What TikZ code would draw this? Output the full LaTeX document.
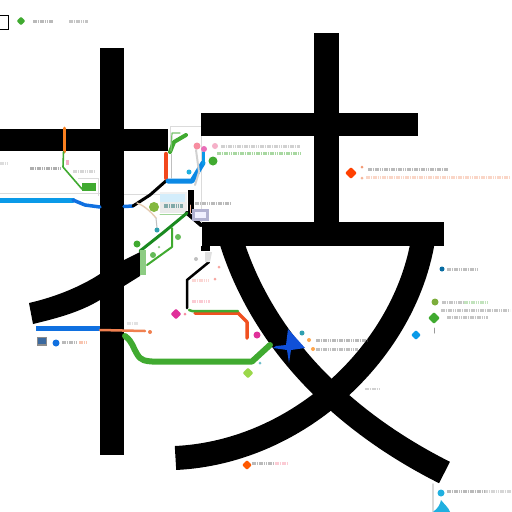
\documentclass[tikz,border=0pt]{standalone}
\usetikzlibrary{shapes.geometric}
\definecolor{skyb}{HTML}{0A9AE8}
\definecolor{royb}{HTML}{1070E0}
\definecolor{deepb}{HTML}{1050D8}
\definecolor{grn}{HTML}{40AA30}
\definecolor{dgrn}{HTML}{1A8A20}
\definecolor{lime}{HTML}{9BD84A}
\definecolor{redo}{HTML}{F05020}
\definecolor{palo}{HTML}{F08050}
\definecolor{mag}{HTML}{E0309A}
\definecolor{pinkl}{HTML}{F5B0C8}
\definecolor{teal2}{HTML}{30A0B0}
\definecolor{cyan2}{HTML}{20B0E0}
\tikzset{
 ink/.style={fill=black,draw=none},
 inkline/.style={draw=black,line width=24pt,line cap=butt},
 wire/.style={line width=#1,line cap=round,line join=round},
 blobd/.style={diamond,fill=#1,draw=none,inner sep=0,minimum size=11pt,rounded corners=1pt},
 blobc/.style={circle,fill=#1,draw=none,inner sep=0,minimum size=7pt},
 blur/.style={draw=#1,line width=3pt,dash pattern=on 1.6pt off .7pt,opacity=.45},
 faint/.style={draw=black!14,line width=1pt}
}
\begin{document}
\begin{tikzpicture}[x=1pt,y=-1pt]
\useasboundingbox (0,0) rectangle (512,512);
\fill[white] (0,0) rectangle (512,512);
% pale frames behind everything
\draw[faint] (0,193) -- (100,193);
\draw[faint] (78,178) -- (98,178) -- (98,196);
\draw[faint] (124,194) -- (160,194);
\draw[faint] (170,152) -- (170,126) -- (201,126);
\draw[faint] (201,136) -- (201,222);
\fill[black!6] (160,192) rectangle (187,213);
% glyph strokes
\fill[ink] (0,129) rectangle (168,151);
\fill[ink] (100,48) rectangle (124,455);
\fill[ink] (29,303) .. controls (55,297) and (80,287) .. (100,274) -- (124,260) -- (140,252) -- (140,276) -- (124,286) -- (100,300) .. controls (80,312) and (58,318) .. (33,324) -- cycle;
\fill[ink] (314,33) rectangle (339,222);
\fill[ink] (201,113) rectangle (418,136);
\draw[inkline] (423,240) .. controls (405,350) and (300,452) .. (175.5,458);
\draw[inkline] (231,240) .. controls (262,340) and (340,420) .. (444.5,472.5);
\fill[ink] (202,222) rectangle (444,246);
\fill[ink] (201,246) rectangle (210,251);
% top-left legend
\draw[black,line width=1pt] (-1,15) rectangle (8,29);
\node[blobd=grn,minimum size=9pt] (tl) at (21,21) {};
\draw[blur=black!60] (33,21) -- (53,21);
\draw[blur=black!50] (69,21) -- (88,21);
% upper-left wires
\draw[wire=3pt,draw=palo!40!orange] (64.5,128) -- (64.5,152);
\draw[wire=1.6pt,draw=grn] (63.5,152) -- (63,167) -- (82,189);
\fill[grn] (82,183) rectangle (96,191);
\fill[pinkl] (66,160) rectangle (69,165);
\draw[blur=black!70] (30,168) -- (60,168);
\draw[blur=black!35] (73,171) -- (95,171);
\draw[blur=black!30] (0,163) -- (8,163);
\draw[wire=5pt,draw=skyb] (0,200) -- (73,200);
\draw[wire=3.5pt,draw=royb] (73,200) -- (85,205) -- (100,207);
\draw[wire=3.5pt,draw=royb] (124,206.5) -- (133,206);
\draw[wire=3pt,draw=black] (133,206) -- (150,195) -- (167,180);
% centre top
\draw[wire=4.5pt,draw=redo!90!red] (166,154) -- (166,178);
\draw[wire=1pt,draw=black!25] (171,154) -- (171,178);
\draw[wire=4pt,draw=grn] (170,152) -- (174,142) -- (186,135);
\draw[wire=1.2pt,draw=grn!70] (171,151) -- (172,133) -- (180,133);
\draw[wire=5pt,draw=skyb!60!royb] (168,181) -- (192,181) -- (203,163);
\draw[wire=3pt,draw=skyb] (203,164) -- (203,152);
\draw[wire=2pt,draw=black!18] (196,150) -- (199,172) -- (195,185);
\node[blobc=cyan2,minimum size=5pt] (bc) at (189,172) {};
\node[blobc=pinkl!80!red,minimum size=7pt] (pk1) at (197,146) {};
\node[blobc=mag!70,minimum size=6pt] (pk2) at (204,149) {};
\node[blobc=pinkl,minimum size=6pt] (pk3) at (215,146) {};
\node[blobc=grn,minimum size=9pt] (gc) at (213,161) {};
\draw[blur=black!40] (221,146) -- (300,146);
\draw[blur=grn] (217,153) -- (300,153);
% centre panel
\fill[skyb!18] (160,194) rectangle (185,202);
\fill[black!8] (160,202) rectangle (187,213);
\draw[blur=teal!70!black,line width=4pt] (164,206) -- (183,206);
\draw[wire=1pt,draw=grn!50] (160,214) -- (185,214);
\node[blobc=lime!85!black,minimum size=10pt] (lc) at (154,207) {};
\draw[wire=1.4pt,draw=brown!40] (137,203) .. controls (145,206) and (152,213) .. (156,218);
\draw[wire=1pt,draw=black!25] (156,218) -- (157,228);
\node[blobc=teal2,minimum size=5pt] (tc) at (157,230) {};
\draw[wire=6pt,draw=black,line cap=butt] (191,190) -- (191,213);
\draw[wire=4pt,draw=black] (187,213) -- (201,225);
\draw[wire=3pt,draw=dgrn] (187,213) -- (164,232) -- (140,251);
\fill[black!60!blue!30] (192,209) rectangle (209,221);
\fill[blue!6] (195,212) rectangle (206,218);
\draw[wire=1pt,draw=palo!60] (190,205) -- (190,213);
\draw[blur=black!60] (195,203) -- (230,203);
% green frame below
\fill[grn!60!white] (140,250) rectangle (146,275);
\draw[wire=2pt,draw=grn] (172,228) -- (172,247) -- (147,265);
\node[blobc=grn,minimum size=7pt] (g1) at (137,244) {};
\node[blobc=grn!80,minimum size=6pt] (g2) at (153,255) {};
\node[blobc=grn!60,minimum size=2.5pt] (g3) at (159,247) {};
\node[blobc=grn!80,minimum size=6pt] (g4) at (178,237) {};
% lower centre
\draw[wire=2.5pt,draw=black] (209,262) -- (187,280) -- (187,308);
\draw[wire=3.5pt,draw=redo] (195,313) -- (238,313) -- (247,322) -- (247,338);
\draw[wire=2.5pt,draw=grn] (189,310) -- (192,311) -- (238,311);
\fill[black!12] (205,252) -- (212,252) -- (210,262) -- (205,262) -- cycle;
\node[blobc=black!25,minimum size=4pt] (gs) at (196,259) {};
\node[blobc=pinkl!80!orange,minimum size=3pt] (p1) at (219,267) {};
\node[blobc=pinkl!80!orange,minimum size=3pt] (p2) at (215,279) {};
\draw[blur=pinkl!80!orange] (192,280) -- (209,280);
\draw[blur=pinkl!80!red] (192,301) -- (210,301);
\node[blobd=mag] (m1) at (176,314) {};
\node[blobc=pinkl!80!red,minimum size=3pt] (m2) at (185,314) {};
\node[blobc=mag,minimum size=7pt] (m3) at (257,335) {};
% lower left
\fill[royb] (36,325.5) rectangle (100,331);
\draw[wire=2.5pt,draw=palo] (100,330) -- (145,331);
\node[blobc=palo,minimum size=4pt] (ar) at (150,332) {};
\draw[blur=black!25] (127,323) -- (138,323);
\fill[black!45] (37,337) rectangle (47,346);
\fill[royb!60!black!80] (38,338) rectangle (46,344);
\node[blobc=royb,minimum size=7pt] (b1) at (56,343) {};
\draw[blur=black!60] (62,342) -- (76,342);
\draw[blur=palo] (79,342) -- (87,342);
% bottom green
\draw[wire=6pt,draw=grn] (125,336) .. controls (133,342) and (133,348) .. (137,354) .. controls (141,361) and (146,361) .. (152,361.5) -- (252,361.5) -- (270,345);
\node[blobd=lime,minimum size=11pt] (l2) at (248,373) {};
\node[blobc=teal2!70,minimum size=3pt] (t2) at (260,363) {};
% blue cross
\fill[deepb] (288,329) -- (305,348) -- (291,350) -- (289,363) -- (287,350) -- (273,348) -- (276,346) -- (286,345) -- cycle;
\node[blobc=teal2,minimum size=5pt] (t3) at (302,333) {};
\node[blobc=orange!70,minimum size=4pt] (o1) at (309,340) {};
\node[blobc=orange!70,minimum size=4pt] (o2) at (313,349) {};
\draw[blur=black!60] (316,340) -- (368,340);
\draw[blur=black!55] (316,349) -- (358,349);
\draw[blur=black!40,line width=2pt] (365,389) -- (381,389);
% right column
\node[blobd=orange!50!red,minimum size=12pt] (o3) at (351,173) {};
\node[blobc=palo!80,minimum size=3pt] (o4) at (362,167) {};
\node[blobc=palo!60,minimum size=3pt] (o5) at (362,178) {};
\draw[blur=black!60] (368,169) -- (448,169);
\draw[blur=palo!70] (366,177) -- (510,177);
\node[blobc=skyb!70!black,minimum size=5pt] (b2) at (442,269) {};
\draw[blur=black!55] (447,269) -- (477,269);
\node[blobc=lime!80!black,minimum size=7pt] (g5) at (435,302) {};
\draw[blur=black!50] (442,302) -- (464,302);
\draw[blur=grn!70] (464,302) -- (488,302);
\draw[blur=black!50] (441,310) -- (510,310);
\draw[blur=black!50] (447,317) -- (488,317);
\node[blobd=grn,minimum size=12pt] (g6) at (434,318) {};
\draw[wire=1pt,draw=black!40] (434,328) -- (434,333);
\node[blobd=skyb,minimum size=10pt] (b3) at (416,335) {};
% bottom right
\draw[wire=2pt,draw=black!15] (433,484) -- (433,512);
\node[blobc=cyan2,minimum size=7pt] (c1) at (441,493) {};
\draw[blur=black!60] (447,491) -- (484,491);
\draw[blur=black!35] (484,491) -- (511,491);
\fill[cyan2] (433,512) .. controls (438,508) and (440,505) .. (441,500) .. controls (444,504) and (449,508) .. (450,512) -- cycle;
% bottom label
\node[blobd=orange!70!red,minimum size=10pt] (o6) at (247,465) {};
\draw[blur=black!60] (252,463) -- (273,463);
\draw[blur=pinkl!80!red] (275,463) -- (288,463);
\end{tikzpicture}
\end{document}
